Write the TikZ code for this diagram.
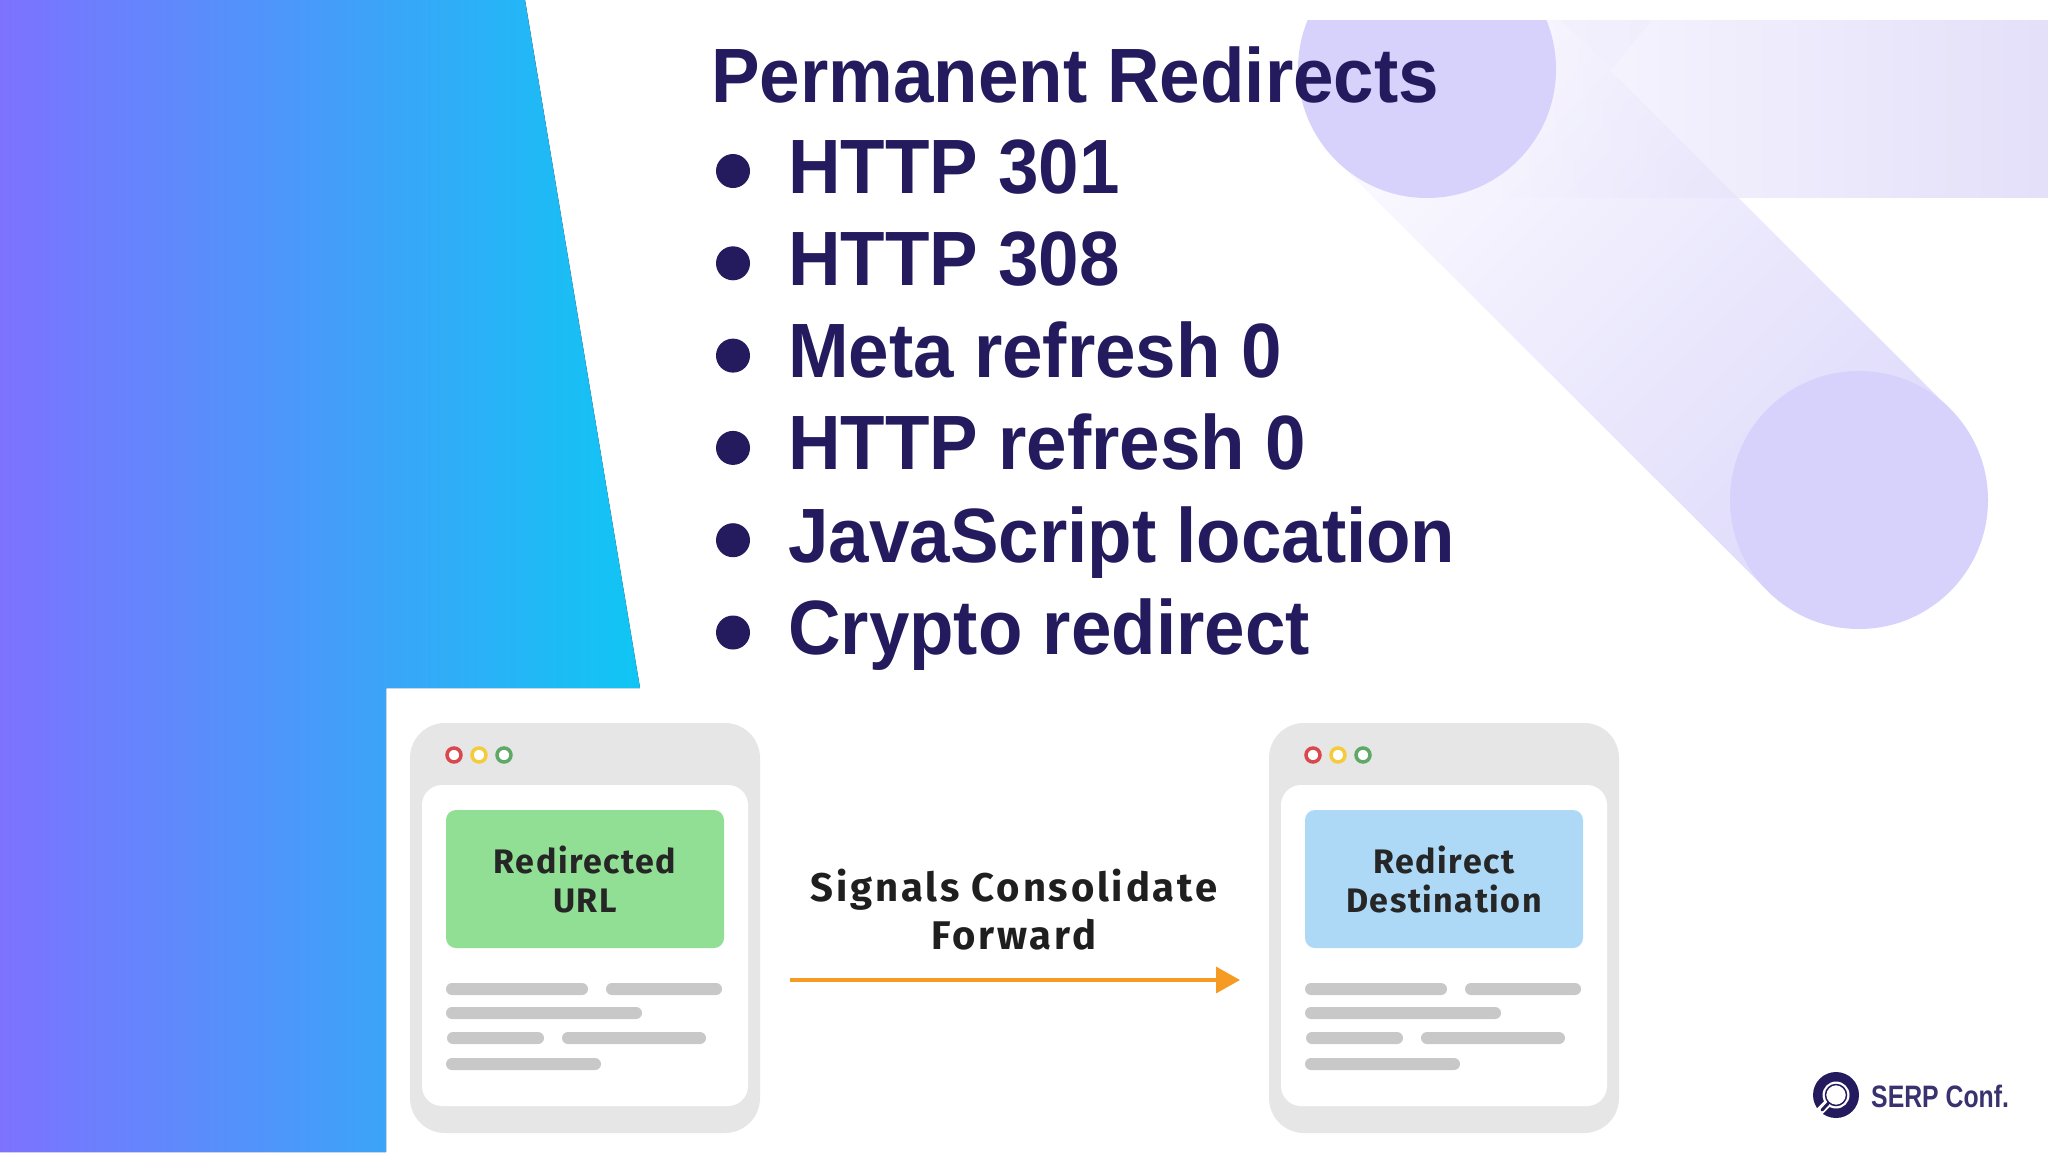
\documentclass[tikz,border=0pt]{standalone}
\usepackage{fontspec}
\usetikzlibrary{positioning,arrows.meta,calc,fadings}
\setmainfont{Liberation Sans}
\newfontfamily\slidefont[FakeStretch=0.945]{Liberation Sans}
\newfontfamily\bannerfont[LetterSpace=4.5]{Fira Sans}
\newfontfamily\notefont[LetterSpace=7]{Fira Sans}
\newfontfamily\logofont[FakeStretch=0.8]{Liberation Sans}
\definecolor{ink}{HTML}{241B5E}
\definecolor{pale}{HTML}{D6D2FB}
\definecolor{paleband}{HTML}{E4E0FA}
\definecolor{palebase}{HTML}{F9F8FF}
\definecolor{palewedge}{HTML}{F5F3FE}
\definecolor{paletop}{HTML}{FBFAFF}
\definecolor{palelow}{HTML}{DFDBFB}
\definecolor{gradleft}{HTML}{7D72FF}
\definecolor{gradmid}{HTML}{4DA0FF}
\definecolor{gradright}{HTML}{0FC6F4}
\definecolor{winbg}{HTML}{E6E6E6}
\definecolor{barcol}{HTML}{C8C8C8}
\definecolor{boxgreen}{HTML}{90DF94}
\definecolor{boxblue}{HTML}{ADD9F7}
\definecolor{dotred}{HTML}{D9484C}
\definecolor{dotyellow}{HTML}{F4CB3A}
\definecolor{dotgreen}{HTML}{5FA868}
\definecolor{signal}{HTML}{F59A23}

\begin{document}
\begin{tikzpicture}[
  x=1pt, y=-1pt,
  title/.style={font=\slidefont\bfseries\fontsize{77}{92}\selectfont, text=ink, inner sep=0pt, anchor=base west},
  bullet/.style={circle, fill=ink, minimum size=34pt, inner sep=0pt},
  window/.style={fill=winbg, rounded corners=35pt, minimum width=350pt, minimum height=410pt, inner sep=0pt},
  pane/.style={fill=white, rounded corners=20pt, minimum width=326pt, minimum height=321pt, inner sep=0pt},
  banner/.style={rounded corners=10pt, minimum width=278pt, minimum height=138pt, inner sep=0pt, align=center,
    text=black!85, font=\bannerfont\bfseries\fontsize{34}{39}\selectfont},
  dot/.style={circle, draw=#1, line width=3.5pt, fill=white, minimum size=14pt, inner sep=0pt},
  bar/.style={fill=barcol, rounded corners=6pt},
  arr/.style={-{Triangle[length=24pt,width=26pt]}, signal, line width=3.5pt},
  note/.style={font=\notefont\bfseries\fontsize{40}{48}\selectfont, align=center, text=black!88, inner sep=0pt}
]
\useasboundingbox (0,0) rectangle (2048,1152);
\fill[white] (0,0) rectangle (2048,1152);

% left colour block
\fill[left color=gradleft, middle color=gradmid, right color=gradright]
  (0,0) -- (525,0) -- (640,688) -- (386,688) -- (386,1152) -- (0,1152) -- cycle;

% pale shapes top right
\begin{scope}
  \clip (1200,20) rectangle (2048,700);
  \shade[top color=paletop, bottom color=palelow, shading angle=45]
    (1336,160) -- (1518,-22) -- (1950,409) -- (1768,591) -- cycle;
\end{scope}
\fill[palebase] (1652,20) -- (2048,20) -- (2048,198) -- (1738,198) -- (1611,70) -- cycle;
\fill[palewedge] (1560,20) -- (1652,20) -- (1611,70) -- cycle;
\fill[paleband, path fading=west] (1500,20) rectangle (2048,198);
\begin{scope}
  \clip (1200,20) rectangle (2048,700);
  \fill[pale] (1427,69) circle (129);
\end{scope}
\fill[pale] (1859,500) circle (129);

% title and list
\node[title] (heading) at (711,102) {Permanent Redirects};
\foreach \i/\txt in {1/HTTP 301, 2/HTTP 308, 3/Meta refresh 0, 4/HTTP refresh 0, 5/JavaScript location, 6/Crypto redirect} {
  \pgfmathsetmacro{\yy}{193+92.3*(\i-1)}
  \node[title] (item\i) at (788,\yy) {\txt};
  \node[bullet] (bul\i) at (733,{\yy-22}) {};
}

% browser windows
\foreach \nm/\xx/\col/\lab in {src/410/boxgreen/{Redirected\\URL}, dst/1269/boxblue/{Redirect\\Destination}} {
  \node[window] (win\nm) at ({\xx+175},928) {};
  \node[pane] (pane\nm) at ({\xx+175},945.5) {};
  \node[banner, fill=\col] (box\nm) at ({\xx+175},879) {\lab};
  \node[dot=dotred] (red\nm) at ({\xx+44},755) {};
  \node[dot=dotyellow] (yel\nm) at ({\xx+69},755) {};
  \node[dot=dotgreen] (grn\nm) at ({\xx+94},755) {};
  \foreach \a/\b/\yy in {36/178/989, 196/312/989, 36/232/1013, 37/134/1038, 152/296/1038, 36/191/1064} {
    \fill[bar] ({\xx+\a},{\yy-6}) rectangle ({\xx+\b},{\yy+6});
  }
}

% arrow with label
\coordinate (arrstart) at (790,980);
\coordinate (arrend) at (1240,980);
\draw[arr] (arrstart) -- (arrend);
\node[note] (signals) at (1014,910) {Signals Consolidate\\Forward};

% logo
\node[circle, fill=ink, minimum size=46pt, inner sep=0pt] (logoring) at (1836,1095) {};
\node[circle, fill=white, minimum size=27pt, inner sep=0pt] (logohole) at (1836,1095) {};
\node[circle, draw=ink, line width=1.5pt, minimum size=21pt, inner sep=0pt] (logolens) at (1836,1095) {};
\coordinate (logogap) at (1812,1119);
\coordinate (logotail) at (1822,1110);
\draw[white, line width=8pt] (logolens) -- (logogap);
\draw[ink, line width=3pt, line cap=round] (logolens) -- (logotail);
\node[font=\logofont\bfseries\fontsize{31}{36}\selectfont, text=ink!90, inner sep=0pt, anchor=base west] (logotext) at (1871,1107) {SERP Conf.};
\end{tikzpicture}
\end{document}
